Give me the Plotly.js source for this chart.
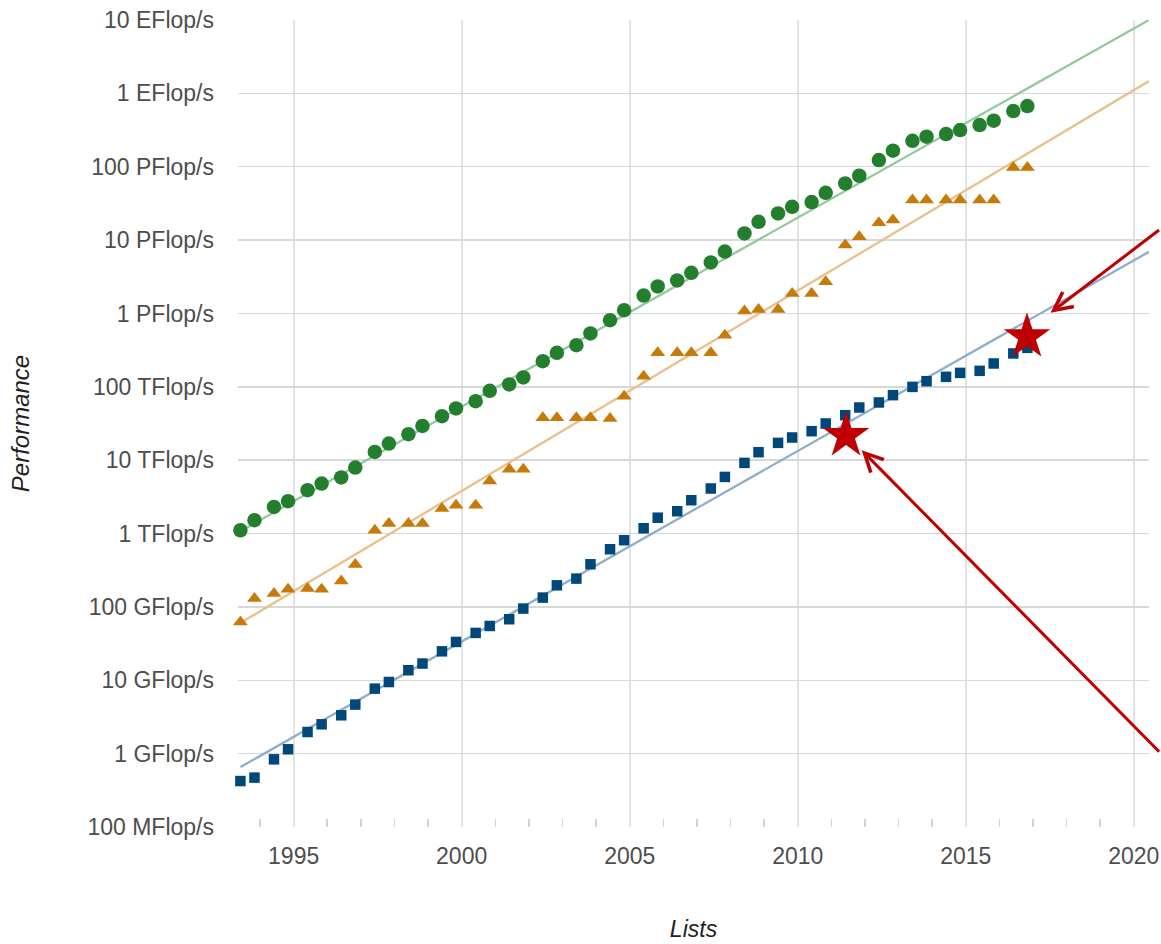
<!DOCTYPE html>
<html><head><meta charset="utf-8">
<script src="https://cdn.plot.ly/plotly-3.0.1.min.js"></script>
<style>html,body{margin:0;padding:0;background:#fff;} #chart{width:1161px;height:944px;}</style>
</head><body><div id="chart"></div>
<script>
// TOP500 lists (June / November)
const lists = ['1993-06','1993-11','1994-06','1994-11','1995-06','1995-11','1996-06','1996-11',
  '1997-06','1997-11','1998-06','1998-11','1999-06','1999-11','2000-06','2000-11',
  '2001-06','2001-11','2002-06','2002-11','2003-06','2003-11','2004-06','2004-11',
  '2005-06','2005-11','2006-06','2006-11','2007-06','2007-11','2008-06','2008-11',
  '2009-06','2009-11','2010-06','2010-11','2011-06','2011-11','2012-06','2012-11',
  '2013-06','2013-11','2014-06','2014-11','2015-06','2015-11','2016-06','2016-11'];

// Performance in GFlop/s
const sumPerf = [1109, 1520, 2307, 2761, 3899, 4808, 5808, 7943,
  12970, 16870, 22600, 29310, 39810, 50700, 63700, 88100,
  107700, 134000, 223900, 290400, 369800, 533700, 811000, 1109000,
  1750000, 2335000, 2818000, 3581000, 4966000, 6966000, 12330000, 17750000,
  23120000, 28440000, 32960000, 44160000, 59290000, 75340000, 123300000, 165200000,
  225900000, 256400000, 278600000, 316200000, 369800000, 423600000, 574100000, 671500000];

const n1Perf = [62.4, 130, 152, 174, 178, 174, 226, 378,
  1109, 1368, 1368, 1368, 2193, 2432, 2432, 5212,
  7535, 7535, 37760, 37760, 37760, 37760, 37000, 74600,
  139700, 290400, 290400, 290400, 290400, 505800, 1076000, 1135000,
  1135000, 1875000, 1875000, 2698000, 8548000, 11090000, 17220000, 18750000,
  35090000, 35090000, 35090000, 35090000, 35090000, 35090000, 97950000, 97950000];

const n500Perf = [0.423, 0.471, 0.836, 1.146, 1.972, 2.512, 3.33, 4.66,
  7.69, 9.47, 13.7, 16.9, 24.8, 33.3, 44.2, 55.0,
  67.9, 94.9, 134, 197, 243, 381, 611, 811,
  1180, 1644, 2014, 2844, 4111, 5916, 9183, 12850,
  17220, 20380, 24850, 31620, 41050, 52240, 61200, 76910,
  99770, 119400, 136800, 154900, 165100, 208000, 285100, 339600];

// Trend lines (start / end)
const trendDates = ['1993-06', '2020-06-15'];
const sumTrend = [1076, 1.0e10];
const n1Trend = [60.4, 1.472e9];
const n500Trend = [0.656, 6.92e6];

// Highlight stars
const starDates = ['2011-06-10', '2016-10-28'];
const starPerf = [21600, 481000];

// Arrow tips (date, GFlop/s) and tail offsets in px
const arrowDates = ['2017-07-11', '2011-11-27'];
const arrowPerf = [1.019e6, 13680];
const arrowAx = [110, 299];
const arrowAy = [-84, 303];

const yTickVals = [0.1, 1, 10, 100, 1e3, 1e4, 1e5, 1e6, 1e7, 1e8, 1e9, 1e10];
const yTickText = ['100 MFlop/s','1 GFlop/s','10 GFlop/s','100 GFlop/s','1 TFlop/s','10 TFlop/s',
  '100 TFlop/s','1 PFlop/s','10 PFlop/s','100 PFlop/s','1 EFlop/s','10 EFlop/s'];

const FONT = 'Liberation Sans, Arial, sans-serif';

const traces = [
  {x: trendDates, y: sumTrend, mode: 'lines', line: {color: '#93c89c', width: 2.3}, hoverinfo: 'skip', showlegend: false},
  {x: trendDates, y: n1Trend, mode: 'lines', line: {color: '#e9c08a', width: 2.3}, hoverinfo: 'skip', showlegend: false},
  {x: trendDates, y: n500Trend, mode: 'lines', line: {color: '#8eaecb', width: 2.3}, hoverinfo: 'skip', showlegend: false},
  {x: lists, y: sumPerf, name: 'Sum', mode: 'markers', cliponaxis: false, marker: {symbol: 'circle', size: 14.5, color: '#237f2e'}, showlegend: false},
  {x: lists, y: n1Perf, name: '#1', mode: 'markers', cliponaxis: false, marker: {symbol: 'triangle-up', size: 13, color: '#c57a0a'}, showlegend: false},
  {x: lists, y: n500Perf, name: '#500', mode: 'markers', cliponaxis: false, marker: {symbol: 'square', size: 10.5, color: '#00477a'}, showlegend: false},
  {x: starDates, y: starPerf, mode: 'markers', cliponaxis: false, marker: {symbol: 'star', size: 35, color: '#c00000'}, showlegend: false, hoverinfo: 'skip'}
];

const annotations = arrowDates.map((d, i) => ({
  x: d, y: Math.log10(arrowPerf[i]), xref: 'x', yref: 'y',
  ax: arrowAx[i], ay: arrowAy[i], axref: 'pixel', ayref: 'pixel',
  text: '', showarrow: true, arrowhead: 5, arrowsize: 1.2, arrowwidth: 3, arrowcolor: '#c00000'
}));

const layout = {
  width: 1161, height: 944,
  margin: {l: 238, r: 12, t: 20, b: 117},
  paper_bgcolor: '#ffffff', plot_bgcolor: '#ffffff',
  font: {family: FONT, color: '#4d4d4d'},
  xaxis: {
    type: 'date', range: ['1993-05-06', '2020-06-15'],
    tick0: '1995-01-01', dtick: 'M60', tickformat: '%Y',
    showgrid: true, gridcolor: '#e2e2e2', gridwidth: 2,
    zeroline: false, showline: false, ticks: '',
    ticklabelstandoff: 13,
    tickfont: {family: FONT, size: 23, color: '#4d4d4d'},
    minor: {dtick: 'M12', tick0: '1994-01-01', ticks: 'inside', ticklen: 8, tickwidth: 1.5, tickcolor: '#d4d4d4', showgrid: false},
    title: {text: 'Lists', font: {family: FONT, size: 23, color: '#222', style: 'italic'}, standoff: 52},
    fixedrange: true
  },
  yaxis: {
    type: 'log', range: [-1, 10],
    tickvals: yTickVals, ticktext: yTickText,
    showgrid: true, gridcolor: '#d8d8d8', gridwidth: 1.4,
    zeroline: false, showline: false, ticks: '',
    ticklabelstandoff: 23,
    tickfont: {family: FONT, size: 23, color: '#4d4d4d'},
    title: {text: 'Performance', font: {family: FONT, size: 24, color: '#222', style: 'italic'}, standoff: 51},
    fixedrange: true
  },
  annotations: annotations,
  showlegend: false
};

Plotly.newPlot('chart', traces, layout, {displayModeBar: false, staticPlot: true});
</script>
</body></html>
